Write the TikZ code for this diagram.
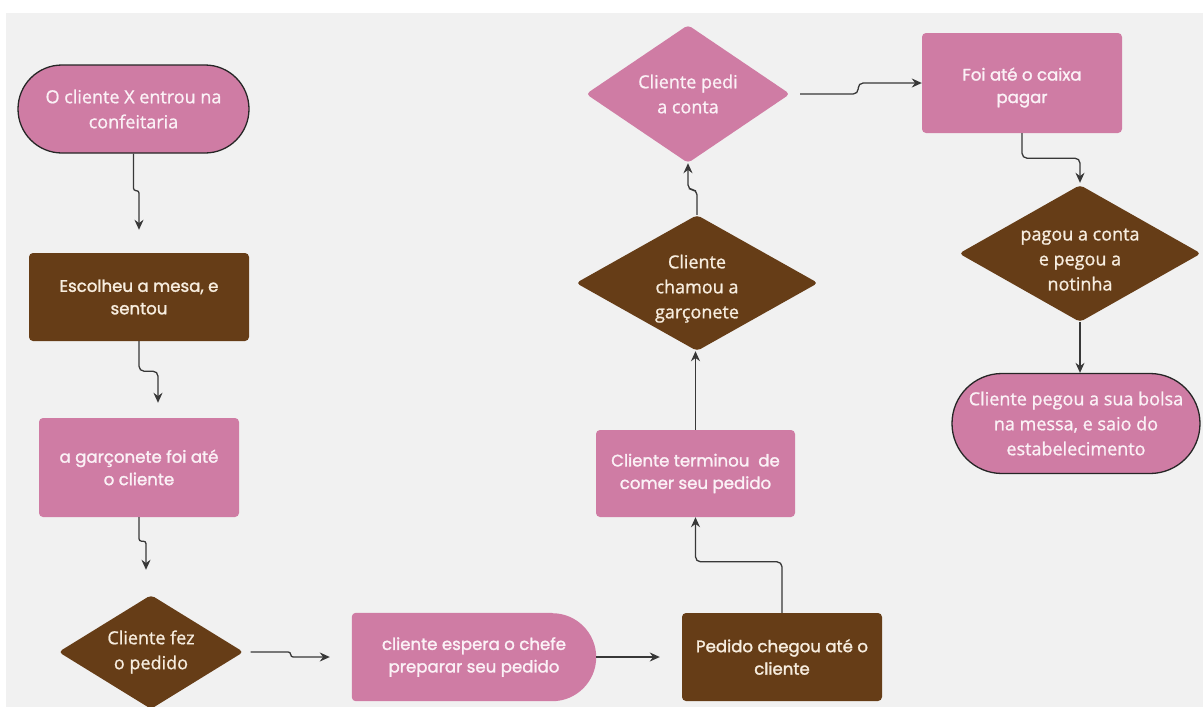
\documentclass[tikz,border=0pt]{standalone}
\usepackage{fontspec}
\setmainfont{Open Sans}[FakeBold=1.0]
\newfontfamily\pop{Poppins}[FakeBold=1.6]
\usetikzlibrary{shapes.geometric,arrows.meta,backgrounds,calc}
\definecolor{pinkc}{HTML}{CF7CA4}
\definecolor{brownc}{HTML}{663D17}
\definecolor{bgc}{HTML}{F1F1F1}
\definecolor{linec}{HTML}{383838}
\definecolor{txtp}{HTML}{FBF1F6}
\definecolor{txtb}{HTML}{F7EDDF}
\begin{document}
\begin{tikzpicture}[x=1pt,y=-1pt,
  base/.style={inner sep=0pt, align=center, font=\fontsize{18}{25}\selectfont},
  term/.style={base, fill=pinkc, draw=black!85, line width=1.3pt, text=txtp, rounded corners=44pt, minimum height=88pt},
  boxx/.style={base, font=\pop\fontsize{16.6}{22.5}\selectfont, rounded corners=4pt, minimum width=200pt, minimum height=88pt},
  pbox/.style={boxx, fill=pinkc, text=txtp},
  bbox/.style={boxx, fill=brownc, text=txtb},
  dia/.style={base, diamond, inner sep=-22pt, rounded corners=4pt, aspect=1.6, minimum width=185pt, minimum height=115pt},
  pdia/.style={dia, fill=pinkc, text=txtp},
  bdia/.style={dia, fill=brownc, text=txtb},
  delaybox/.style={base, font=\pop\fontsize{16.6}{22.5}\selectfont, text=txtp, minimum width=244pt, minimum height=88pt},
  conn/.style={draw=linec, line width=1.3pt, rounded corners=5pt, -{Stealth[length=10pt,width=9pt]}},
  jog/.style={conn, rounded corners=2.5pt},
]
\useasboundingbox (0,0) rectangle (1203,707);

\node[term, minimum width=231pt] (n1) at (133.5,109) {O cliente X entrou na\\confeitaria};
\node[bbox, minimum width=220pt] (n2) at (139,297) {Escolheu a mesa, e\\sentou};
\node[pbox, minimum height=99pt] (n3) at (139,467.5) {a garçonete foi até\\o cliente};
\node[bdia, minimum height=114pt] (n4) at (151,652) {Cliente fez\\o pedido};
\node[delaybox] (n5) at (474,657) {cliente espera o chefe\\preparar seu pedido};
\node[bbox] (n6) at (782,657) {Pedido chegou até o\\cliente};
\node[pbox, minimum width=199pt, minimum height=87pt] (n7) at (695.5,473.5) {Cliente terminou\ \ de\\comer seu pedido};
\node[bdia, minimum width=242pt, minimum height=136pt] (n8) at (697,283) {\rule{0pt}{25pt}Cliente\\chamou a\\garçonete};
\node[pdia, minimum width=204pt, minimum height=138pt] (n9) at (688,94) {Cliente pedi\\a conta};
\node[pbox, minimum height=100pt] (n10) at (1022,83) {\rule{0pt}{22pt}Foi até o caixa\\pagar};
\node[bdia, minimum width=242pt, minimum height=137pt] (n11) at (1080,253.5) {\rule{0pt}{24pt}pagou a conta\\e pegou a\\notinha};
\node[term, minimum width=248pt, minimum height=100pt, rounded corners=50pt] (n12) at (1076,423.5) {Cliente pegou a sua bolsa\\na messa, e saio do\\estabelecimento};

\begin{scope}[on background layer]
  \fill[white] (0,0) rectangle (1203,707);
  \fill[bgc] (6,13) rectangle (1203,707);
  \fill[pinkc] ([xshift=-44pt]n5.north east) -- ([xshift=4pt]n5.north west)
    arc[start angle=90,end angle=180,radius=4pt] -- ([yshift=4pt]n5.south west)
    arc[start angle=180,end angle=270,radius=4pt] -- ([xshift=-44pt]n5.south east)
    arc[start angle=-90,end angle=90,radius=44pt] -- cycle;
\end{scope}

\draw[jog, shorten >=23pt] (n1.south) -- ++(0pt,-37pt) -| (n2.north);
\draw[conn, shorten >=15pt] (n2.south) -- ++(0pt,-30pt) -| ([xshift=19pt]n3.north);
\draw[jog, shorten >=25pt] (n3.south) -- ++(0pt,-24pt) -| ([xshift=-5pt]n4.north);
\draw[jog, shorten >=22pt] ([xshift=7pt]n4.east) -- ++(40pt,0pt) |- (n5.west);
\draw[conn, shorten >=22pt] (n5.east) -- (n6.west);
\draw[conn] (n6.north) -- ++(0pt,51pt) -| (n7.south);
\draw[conn] (n7.north) -- (n7.north |- n8.south);
\draw[conn] (n8.north) -- ++(0pt,25pt) -| (n9.south);
\draw[conn] ([xshift=10pt]n9.east) -- ++(58pt,0pt) |- (n10.west);
\draw[conn, shorten >=2pt] (n10.south) -- ++(0pt,-25pt) -| (n11.north);
\draw[conn] (n11.south) -- (n11.south |- n12.north);
\end{tikzpicture}
\end{document}
